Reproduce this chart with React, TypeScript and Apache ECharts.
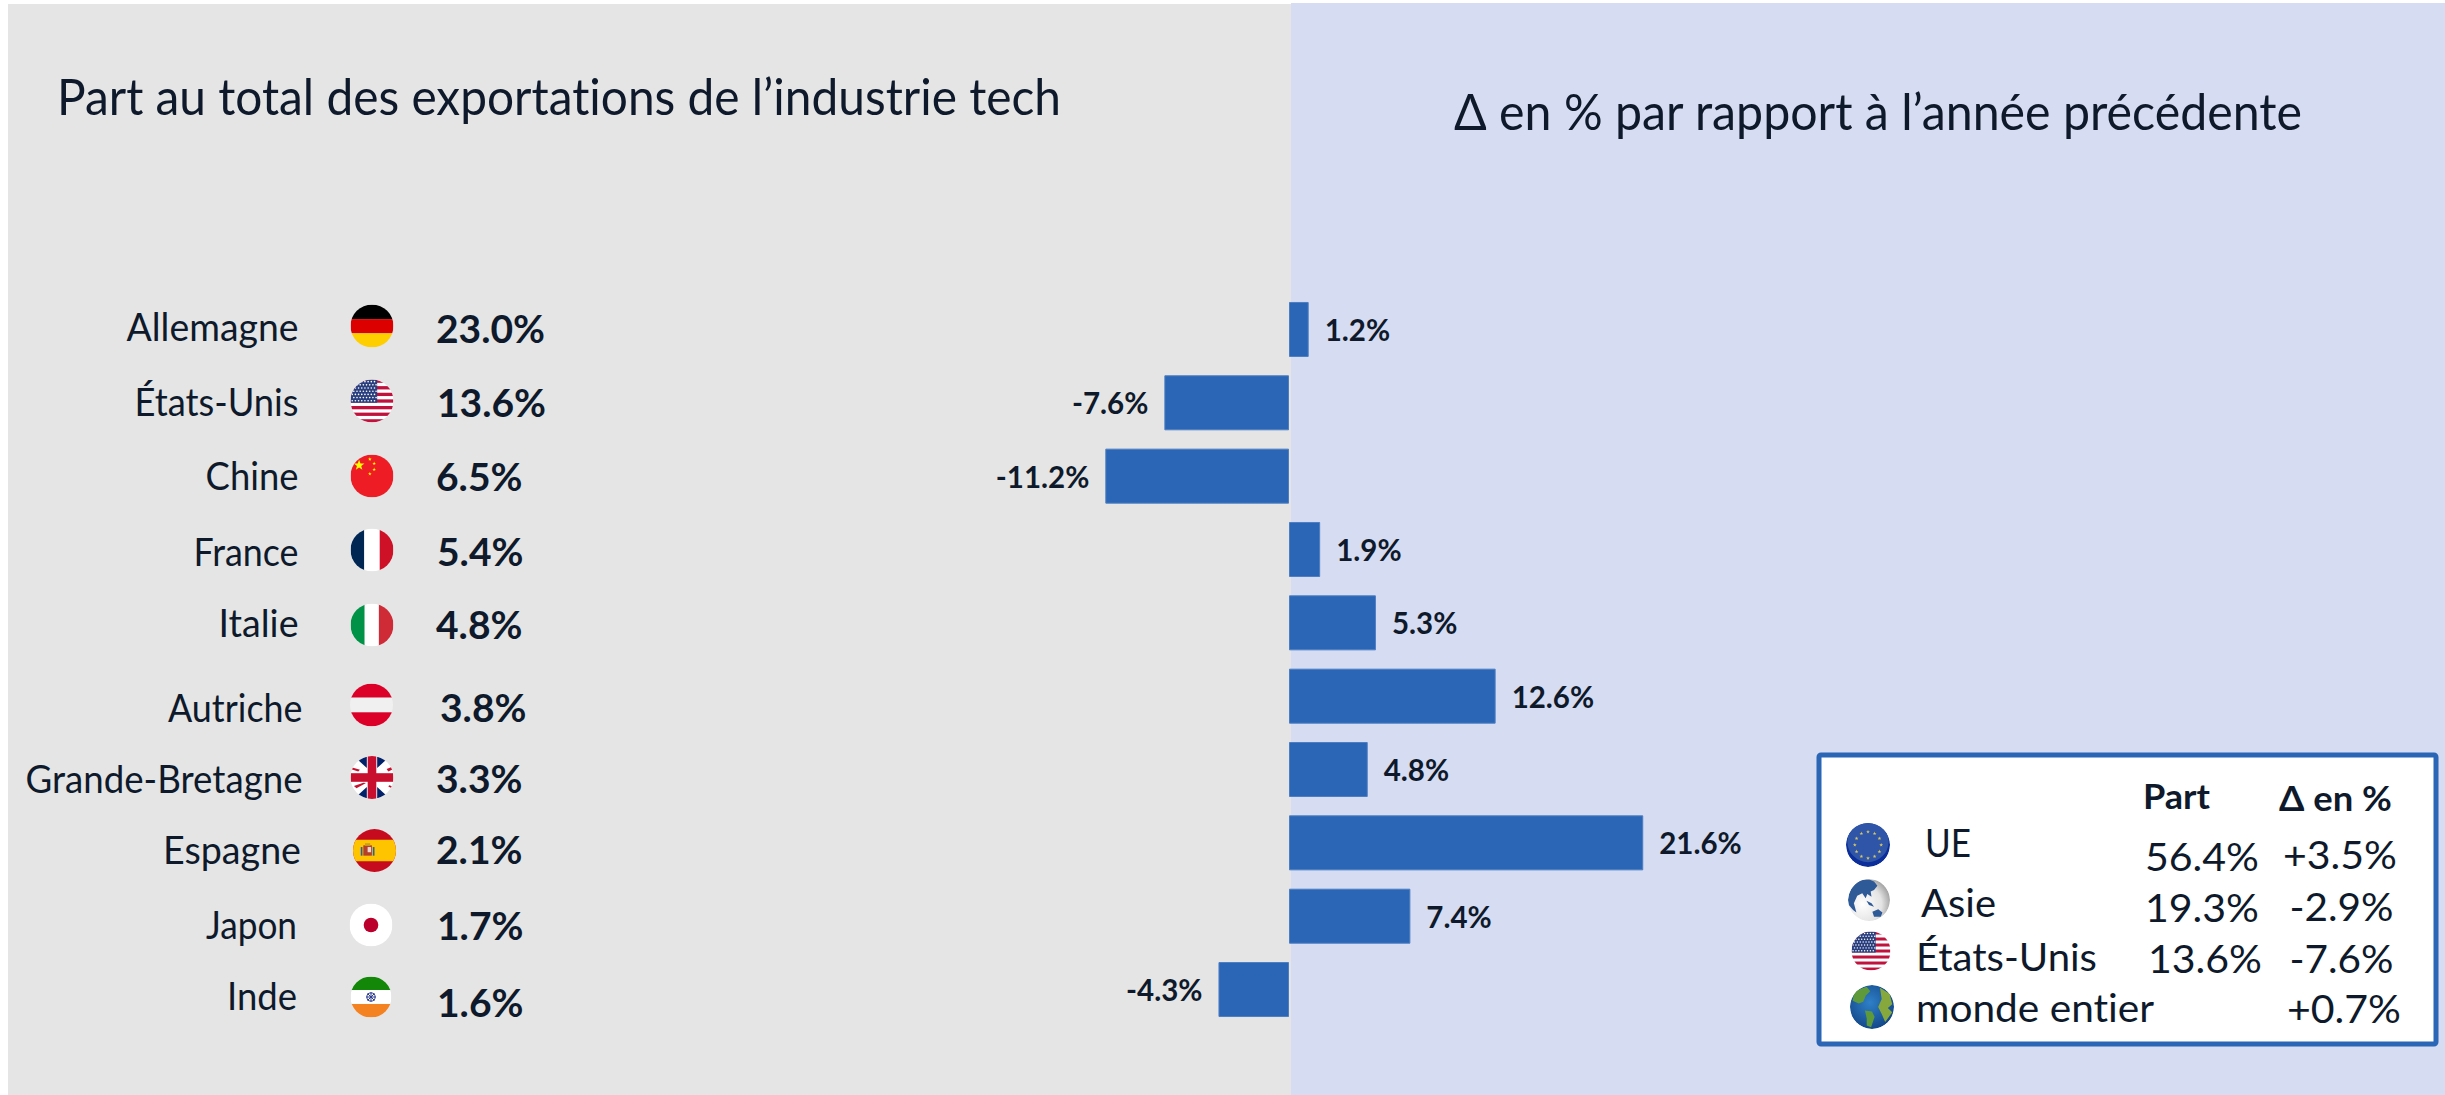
import React, { useEffect, useRef } from "react";
import * as echarts from "echarts";

// ---- data ----
const countries = ["Allemagne", "États-Unis", "Chine", "France", "Italie", "Autriche", "Grande-Bretagne", "Espagne", "Japon", "Inde"];
const shares = ["23.0%", "13.6%", "6.5%", "5.4%", "4.8%", "3.8%", "3.3%", "2.1%", "1.7%", "1.6%"];
const changes = [1.2, -7.6, -11.2, 1.9, 5.3, 12.6, 4.8, 21.6, 7.4, -4.3];
const titleLeft = "Part au total des exportations de l’industrie tech";
const titleRight = "Δ en % par rapport à l’année précédente";
const regionNames = ["UE", "Asie", "États-Unis", "monde entier"];
const regionShares = ["56.4%", "19.3%", "13.6%", ""];
const regionChanges = ["+3.5%", "-2.9%", "-7.6%", "+0.7%"];
const tableHeaders = ["Part", "Δ en %"];

// ---- layout ----
const labelRight = [298.5, 298.5, 298.5, 298.5, 298.5, 302.5, 302.5, 301, 297, 297];
const labelWidth = [172, 164, 93, 105, 80, 134.5, 277, 138, 91, 70];
const labelBase = [341, 416, 490, 566, 637, 722, 793, 864, 939, 1010];
const shareLeft = [436, 437, 436, 437, 436, 440, 436, 436, 437, 437];
const shareBase = [343, 417, 491, 566, 639, 722, 793, 864, 940, 1017];
const flagX = [372, 372, 372, 372, 372, 371.5, 372, 374.5, 371, 371];
const flagY = [326, 401, 476, 550, 625, 705, 777.5, 850.5, 925, 997];
const flagSize = [43, 43, 43, 43, 43, 43, 43, 43, 43, 41];
const regionIconX = [1868, 1869, 1871, 1872];
const regionIconY = [845, 900, 951, 1007];
const regionIconSize = [44, 42, 39, 44];
const regionNameX = [1925, 1921, 1916, 1916];
const regionNameBase = [857, 917, 971, 1022];
const regionNameWidth = [46, 75, 181, 239];
const regionShareX = [2145, 2145, 2148];
const regionShareBase = [871, 922, 973];
const regionChangeX = [2283, 2289.5, 2289.5, 2287];
const regionChangeBase = [869, 921, 973, 1023];

const INK = "#0E1A2B";
const BLUE = "#2B65B5";
const FONT = "Lato";

// ---- flags as small svg images ----
const svg = (body: string, defs = "") =>
  "data:image/svg+xml;charset=utf-8," +
  encodeURIComponent(
    `<svg xmlns="http://www.w3.org/2000/svg" viewBox="0 0 100 100" width="200" height="200"><defs><clipPath id="c"><circle cx="50" cy="50" r="50"/></clipPath>${defs}</defs><g clip-path="url(#c)">${body}</g></svg>`
  );
const r = (x: number, y: number, w: number, h: number, f: string) => `<rect x="${x}" y="${y}" width="${w}" height="${h}" fill="${f}"/>`;
const star = (cx: number, cy: number, R: number, f: string) => {
  const pts: string[] = [];
  for (let i = 0; i < 10; i++) {
    const a = -Math.PI / 2 + (i * Math.PI) / 5;
    const q = i % 2 ? R * 0.4 : R;
    pts.push(`${(cx + q * Math.cos(a)).toFixed(1)},${(cy + q * Math.sin(a)).toFixed(1)}`);
  }
  return `<polygon points="${pts.join(" ")}" fill="${f}"/>`;
};
const usFlag = () => {
  let s = r(0, 0, 100, 100, "#fff");
  for (let i = 0; i < 7; i++) s += r(0, i * 15.4, 100, 7.7, "#C0123C");
  s += r(0, 0, 62, 54, "#2A3F7E");
  for (let row = 0; row < 7; row++)
    for (let col = 0; col < 8; col++) s += `<circle cx="${4 + col * 7.4 + (row % 2) * 3.7}" cy="${5 + row * 7.4}" r="1.9" fill="#fff"/>`;
  return svg(s);
};
const ukFlag = () =>
  svg(
    r(0, 0, 100, 100, "#fff") +
      `<polygon points="14,6 38,2 38,28" fill="#012169"/><polygon points="62,2 86,6 62,28" fill="#012169"/>` +
      `<polygon points="14,94 38,98 38,72" fill="#012169"/><polygon points="62,98 86,94 62,72" fill="#012169"/>` +
      `<polygon points="84,30 97,25 100,30 88,36" fill="#C8102E"/><polygon points="4,27 22,32 18,36 2,31" fill="#C8102E"/>` +
      `<polygon points="8,70 30,62 36,63 14,75" fill="#C8102E"/><polygon points="90,68 98,71 96,75 88,71" fill="#C8102E"/>` +
      r(40, 0, 20, 100, "#C8102E") +
      r(0, 40, 100, 20, "#C8102E")
  );
const spainFlag = () =>
  svg(
    r(0, 0, 100, 100, "#C60B1E") +
      r(0, 25, 100, 50, "#FFC400") +
      r(24, 38, 20, 24, "#B5402A") +
      r(28, 33, 12, 6, "#C8A020") +
      r(18, 42, 4, 20, "#2B5FA8") +
      r(46, 42, 4, 20, "#2B5FA8") +
      r(34, 42, 8, 12, "#E8D8D0")
  );
const chinaFlag = () =>
  svg(
    r(0, 0, 100, 100, "#EE1C25") +
      star(20, 25, 13, "#FFFF00") +
      star(45, 11, 4.5, "#FFFF00") +
      star(55, 21, 4.5, "#FFFF00") +
      star(55, 35, 4.5, "#FFFF00") +
      star(45, 45, 4.5, "#FFFF00")
  );
const indiaFlag = () => {
  let spokes = "";
  for (let i = 0; i < 8; i++) {
    const a = (i * Math.PI) / 4;
    spokes += `<line x1="50" y1="50" x2="${50 + 12 * Math.cos(a)}" y2="${50 + 12 * Math.sin(a)}" stroke="#2A3A8C" stroke-width="2.4"/>`;
  }
  return svg(r(0, 0, 100, 33, "#138808") + r(0, 33, 100, 34, "#fff") + r(0, 67, 100, 33, "#F58220") + spokes + `<circle cx="50" cy="50" r="10" fill="none" stroke="#2A3A8C" stroke-width="2.4"/>`);
};
const euIcon = () => {
  let s = `<circle cx="50" cy="50" r="50" fill="#0B2E9A"/><circle cx="50" cy="42" r="47" fill="#2F55A8"/>`;
  for (let i = 0; i < 12; i++) {
    const a = (i * Math.PI) / 6;
    s += star(50 + 30 * Math.cos(a), 50 + 30 * Math.sin(a), 4.5, "#D8C860");
  }
  return svg(s);
};
const asiaIcon = () =>
  svg(
    `<circle cx="50" cy="50" r="50" fill="url(#g)"/>` +
      `<path d="M0 50 Q3 18 28 4 Q48 -2 62 6 L70 16 L62 26 L54 30 L56 42 L46 36 L42 46 L34 34 L22 40 L14 58 L20 80 L12 74 L2 62 Z" fill="#2F5A98"/>` +
      `<path d="M44 52 L56 58 L62 66 L50 62 Z M58 78 L72 72 L82 80 L78 90 L62 90 Z" fill="#2F5A98"/>`,
    `<radialGradient id="g" cx="35%" cy="60%" r="75%"><stop offset="0" stop-color="#FFFFFF"/><stop offset="0.6" stop-color="#E4E4E4"/><stop offset="1" stop-color="#8C8C8C"/></radialGradient>`
  );
const worldIcon = () =>
  svg(
    `<circle cx="50" cy="50" r="50" fill="url(#g)"/>` +
      `<path d="M10 14 L38 4 L46 14 L36 24 L30 38 L20 42 L6 36 Z M34 58 L50 60 L56 72 L48 96 L38 92 L38 76 Z" fill="#5E9A3A"/>` +
      `<path d="M68 6 L90 20 L96 44 L86 52 L96 62 L80 84 L72 66 L64 50 L72 32 Z" fill="#86A83C"/>`,
    `<radialGradient id="g" cx="45%" cy="40%" r="70%"><stop offset="0" stop-color="#2F80C8"/><stop offset="1" stop-color="#0F3F80"/></radialGradient>`
  );
const flagImages = [
  svg(r(0, 0, 100, 34, "#000") + r(0, 34, 100, 33, "#DD0000") + r(0, 67, 100, 33, "#FFCE00")),
  usFlag(),
  chinaFlag(),
  svg(r(0, 0, 32, 100, "#002654") + r(32, 0, 36, 100, "#fff") + r(68, 0, 32, 100, "#CE1126")),
  svg(r(0, 0, 33, 100, "#009246") + r(33, 0, 33, 100, "#fff") + r(66, 0, 34, 100, "#CE2B37")),
  svg(r(0, 0, 100, 33, "#DC0028") + r(0, 33, 100, 34, "#F0F0F0") + r(0, 67, 100, 33, "#DC0028")),
  ukFlag(),
  spainFlag(),
  svg(r(0, 0, 100, 100, "#fff") + `<circle cx="50" cy="50" r="17" fill="#BC002D"/>`),
  indiaFlag(),
];
const regionIcons = [euIcon(), asiaIcon(), usFlag(), worldIcon()];

// ---- helpers ----
const ctx = document.createElement("canvas").getContext("2d")!;
const scaleFor = (text: string, font: string, width: number) => {
  ctx.font = font;
  return width / ctx.measureText(text).width;
};
const txt = (text: string, x: number, base: number, size: number, opts: { weight?: number; align?: string; width?: number } = {}) => {
  const weight = opts.weight ?? 400;
  const sx = opts.width ? scaleFor(text, `${weight} ${size}px ${FONT}`, opts.width) : 1;
  return {
    type: "text",
    x,
    y: base - size * 0.38,
    scaleX: sx,
    silent: true,
    style: { text, fontFamily: FONT, fontSize: size, fontWeight: weight, fill: INK, align: opts.align ?? "left", verticalAlign: "middle" },
  };
};
const icon = (image: string, cx: number, cy: number, d: number) => ({
  type: "image",
  silent: true,
  style: { image, x: cx - d / 2, y: cy - d / 2, width: d, height: d },
});

export default function App() {
  const ref = useRef<HTMLDivElement>(null);
  useEffect(() => {
    document.body.style.margin = "0";
    const chart = echarts.init(ref.current!, undefined, { renderer: "svg" });
    const elements: any[] = [
      { type: "rect", silent: true, shape: { x: 8, y: 4, width: 1283, height: 1091 }, style: { fill: "#E5E5E5" } },
      { type: "rect", silent: true, shape: { x: 1291, y: 3, width: 1154, height: 1092 }, style: { fill: "#D6DCF1" } },
      txt(titleLeft, 57, 115, 50, { width: 1005 }),
      txt(titleRight, 1454, 129, 50, { width: 849 }),
    ];
    countries.forEach((c, i) => {
      elements.push(txt(c, labelRight[i], labelBase[i], 39, { align: "right", width: labelWidth[i] }));
      elements.push(icon(flagImages[i], flagX[i], flagY[i], flagSize[i]));
      elements.push(txt(shares[i], shareLeft[i], shareBase[i], 39, { weight: 700 }));
    });
    elements.push({
      type: "rect",
      silent: true,
      z: 5,
      shape: { x: 1819, y: 755, width: 617, height: 289, r: 2 },
      style: { fill: "#FFFFFF", stroke: BLUE, lineWidth: 5 },
    });
    const boxed = (e: any) => ({ ...e, z: 6 });
    elements.push(boxed(txt(tableHeaders[0], 2143, 809, 35, { weight: 700, width: 67 })));
    elements.push(boxed(txt(tableHeaders[1], 2279, 811, 35, { weight: 700, width: 113 })));
    regionNames.forEach((n, i) => {
      elements.push(boxed(icon(regionIcons[i], regionIconX[i], regionIconY[i], regionIconSize[i])));
      elements.push(boxed(txt(n, regionNameX[i], regionNameBase[i], 39, { width: regionNameWidth[i] })));
      if (regionShares[i]) elements.push(boxed(txt(regionShares[i], regionShareX[i], regionShareBase[i], 39, { width: 114 })));
      elements.push(boxed(txt(regionChanges[i], regionChangeX[i], regionChangeBase[i], 39, { width: i === 0 || i === 3 ? 114 : 104 })));
    });

    chart.setOption({
      animation: false,
      backgroundColor: "#FFFFFF",
      grid: { left: 961, top: 292.8, width: 820, height: 733.4, containLabel: false },
      xAxis: { type: "value", min: -20, max: 30, interval: 10, show: false },
      yAxis: { type: "category", inverse: true, data: countries, show: false },
      graphic: { elements },
      series: [
        {
          type: "bar",
          barWidth: 55,
          z: 3,
          itemStyle: { color: BLUE, borderColor: "#4D7EC3", borderWidth: 1 },
          data: changes.map((v) => ({
            value: v,
            label: { position: v < 0 ? "left" : "right" },
          })),
          label: {
            show: true,
            distance: 16,
            offset: [0, 0],
            fontFamily: FONT,
            fontSize: 29.5,
            fontWeight: 700,
            color: INK,
            formatter: (p: any) => `${p.value.toFixed(1)}%`,
          },
        },
      ],
    });
    return () => chart.dispose();
  }, []);
  return <div ref={ref} style={{ width: 2445, height: 1095, fontVariantLigatures: "none" }} />;
}
